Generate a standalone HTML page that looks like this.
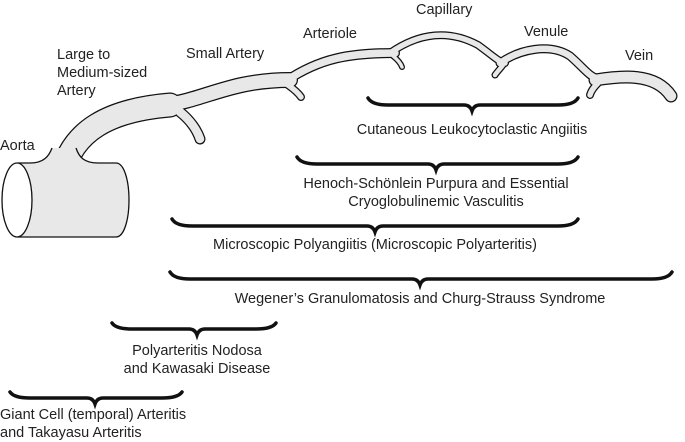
<!DOCTYPE html>
<html><head><meta charset="utf-8"><style>
html,body{margin:0;padding:0;background:#fff;}
svg{display:block;}
text{font-family:"Liberation Sans",Arial,sans-serif;font-size:14.5px;fill:#222;}
</style></head><body>
<svg width="685" height="442" viewBox="0 0 685 442" xmlns="http://www.w3.org/2000/svg">
<g fill="none" stroke-linecap="round" stroke="#111">
  <path d="M62 175 C72 130 110 110 170 105" stroke-width="25"/>
  <path d="M165 105 C205 100 230 80 290 80" stroke-width="16"/>
  <path d="M286 81 C320 58 350 53 395 53" stroke-width="10"/>
  <path d="M390 53 C420 32 450 30 478 45 C492 55 500 63 505 63" stroke-width="8"/>
  <path d="M500 63 C520 49 550 43 570 56 C585 69 590 78 600 79" stroke-width="9"/>
  <path d="M595 80 C620 76 655 72 671 96" stroke-width="13"/>
  <path d="M180 112 C190 120 197 130 200 139" stroke-width="11"/>
  <path d="M288 85 C295 90 299 94 301 97" stroke-width="8"/>
  <path d="M393 56 C398 60 401 64 402 67" stroke-width="6"/>
  <path d="M503 65 C500 69 497 72 495 75" stroke-width="7"/>
  <path d="M598 83 C594 87 591 91 590 95" stroke-width="8"/>
</g>
<g fill="none" stroke-linecap="round" stroke="#e8e8e8">
  <path d="M62 175 C72 130 110 110 170 105" stroke-width="22.5"/>
  <path d="M165 105 C205 100 230 80 290 80" stroke-width="13.5"/>
  <path d="M286 81 C320 58 350 53 395 53" stroke-width="7.5"/>
  <path d="M390 53 C420 32 450 30 478 45 C492 55 500 63 505 63" stroke-width="5.5"/>
  <path d="M500 63 C520 49 550 43 570 56 C585 69 590 78 600 79" stroke-width="6.5"/>
  <path d="M595 80 C620 76 655 72 671 96" stroke-width="10.5"/>
  <path d="M180 112 C190 120 197 130 200 139" stroke-width="8.5"/>
  <path d="M288 85 C295 90 299 94 301 97" stroke-width="5.5"/>
  <path d="M393 56 C398 60 401 64 402 67" stroke-width="3.5"/>
  <path d="M503 65 C500 69 497 72 495 75" stroke-width="4.5"/>
  <path d="M598 83 C594 87 591 91 590 95" stroke-width="5.5"/>
</g>
<!-- cylinder body (covers artery caps) -->
<path d="M18 163 L30 163 C44 163 49 156 52 148 L76 148 C79 157 84 163 98 163 L116 163 C124 163 129 180 129 200 C129 220 124 237 116 237 L18 237 Z" fill="#e8e8e8" stroke="none"/>
<path d="M30 163 C44 163 49 156 52 148 M76 148 C79 157 84 163 98 163 L116 163 C124 163 129 180 129 200 C129 220 124 237 116 237 L18 237 M18 163 L30 163" fill="none" stroke="#111" stroke-width="1.3"/>
<ellipse cx="17" cy="200" rx="15" ry="37" fill="#fff" stroke="#111" stroke-width="1.3"/>
<!-- braces -->
<g fill="none" stroke="#111" stroke-width="3.5" stroke-linecap="round">
  <path d="M368 98 Q372 105 388 105 L464 105 Q470 105 472 111 Q474 105 480 105 L558 105 Q574 105 578 98"/>
  <path d="M297 157 Q301 164 317 164 L428 164 Q434 164 436 170 Q438 164 444 164 L558 164 Q574 164 578 157"/>
  <path d="M172 219 Q176 226 192 226 L367 226 Q373 226 375 232 Q377 226 383 226 L558 226 Q574 226 578 219"/>
  <path d="M170 272 Q174 279 190 279 L412 279 Q418 279 420 285 Q422 279 428 279 L652 279 Q668 279 672 272"/>
  <path d="M112 323 Q116 329 132 329 L189 329 Q195 329 197 335 Q199 329 205 329 L256 329 Q272 329 276 323"/>
  <path d="M10 392 Q14 398 30 398 L87 398 Q93 398 95 404 Q97 398 103 398 L162 398 Q178 398 182 392"/>
</g>
<!-- labels -->
<text x="0" y="150">Aorta</text>
<text x="57" y="59">Large to</text>
<text x="57" y="77">Medium-sized</text>
<text x="57" y="95">Artery</text>
<text x="186" y="58">Small Artery</text>
<text x="303" y="38">Arteriole</text>
<text x="416" y="14">Capillary</text>
<text x="524" y="36">Venule</text>
<text x="625" y="60">Vein</text>
<g text-anchor="middle">
<text x="472" y="134">Cutaneous Leukocytoclastic Angiitis</text>
<text x="436" y="188">Henoch-Schönlein Purpura and Essential</text>
<text x="436" y="206">Cryoglobulinemic Vasculitis</text>
<text x="375" y="249">Microscopic Polyangiitis (Microscopic Polyarteritis)</text>
<text x="420" y="303">Wegener’s Granulomatosis and Churg-Strauss Syndrome</text>
<text x="197" y="355">Polyarteritis Nodosa</text>
<text x="197" y="373">and Kawasaki Disease</text>
</g>
<text x="0" y="419">Giant Cell (temporal) Arteritis</text>
<text x="0" y="437">and Takayasu Arteritis</text>
</svg>
</body></html>
